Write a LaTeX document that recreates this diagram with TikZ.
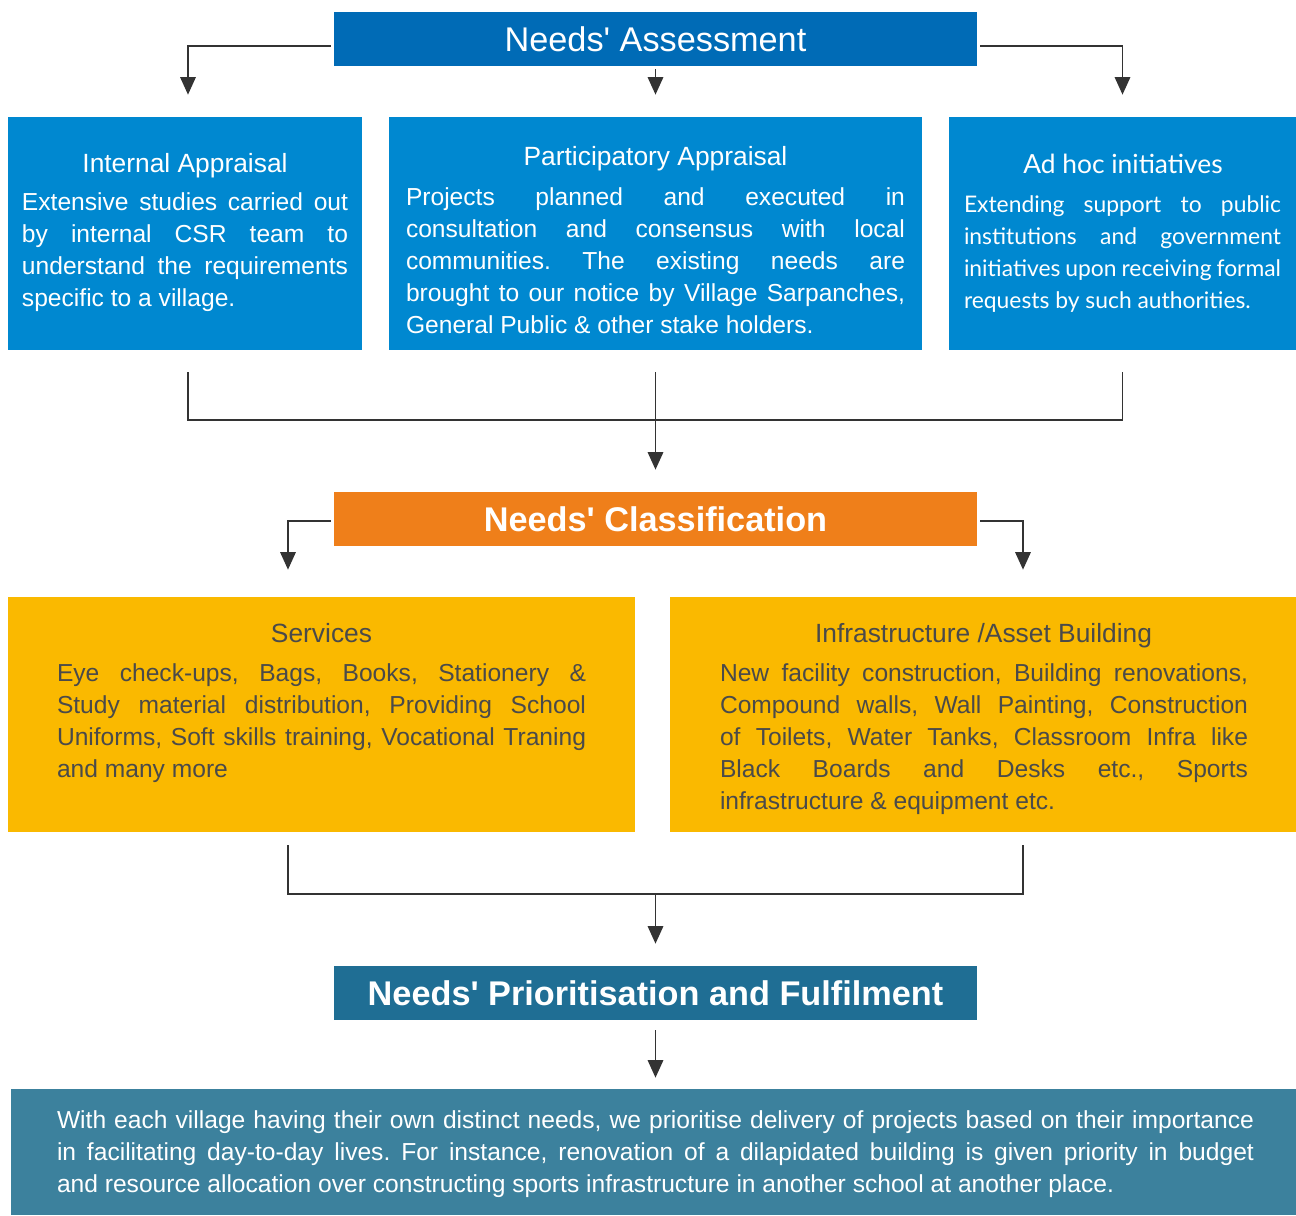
\documentclass[tikz,border=0pt]{standalone}
\usepackage{fontspec}
\setmainfont{Liberation Sans}
\newfontfamily\adhocfont{Lato}
\usetikzlibrary{arrows.meta,positioning}
\tolerance=10000
\hbadness=10000
\frenchspacing

\definecolor{assessblue}{HTML}{006BB6}
\definecolor{appraisalblue}{HTML}{0088D0}
\definecolor{classorange}{HTML}{EF7F1A}
\definecolor{typeyellow}{HTML}{FAB900}
\definecolor{priodark}{HTML}{1F6E94}
\definecolor{fulfilteal}{HTML}{3C819D}
\definecolor{inkgray}{HTML}{4A4A4A}
\definecolor{linegray}{HTML}{333333}

\tikzset{
  headbox/.style={rectangle, inner sep=0pt, text=white, minimum width=12.86cm,
    minimum height=1.08cm, font=\fontsize{19.5}{23}\selectfont},
  panel/.style={rectangle, inner sep=0pt},
  head/.style={anchor=base, inner sep=0pt, font=\fontsize{15}{18}\selectfont},
  body/.style={anchor=base, inner sep=0pt, align=justify,
    font=\fontsize{14}{18.21}\selectfont},
  link/.style={draw=linegray, line width=0.85pt},
  arr/.style={link, -{Triangle[width=0.31cm,length=0.35cm]}},
}

\begin{document}
\begin{tikzpicture}
  \useasboundingbox (0,0) rectangle (25.92,-24.3);

  % level 1: assessment
  \node[headbox, fill=assessblue] (na) at (13.11,-0.78) {Needs\textquotesingle{} Assessment};

  \node[panel, fill=appraisalblue, minimum width=7.08cm, minimum height=4.66cm] (ia) at (3.70,-4.67) {};
  \node[panel, fill=appraisalblue, minimum width=10.66cm, minimum height=4.66cm] (pa) at (13.11,-4.67) {};
  \node[panel, fill=appraisalblue, minimum width=6.94cm, minimum height=4.66cm] (ah) at (22.45,-4.67) {};

  \node[head, text=white] (iahead) at (3.70,-3.45) {Internal Appraisal};
  \node[body, text=white, text width=6.52cm] (iabody) at (3.70,-4.20)
    {Extensive studies carried out\linebreak by internal CSR team to\linebreak
     understand the requirements\linebreak specific to a village.};

  \node[head, text=white] (pahead) at (13.11,-3.31) {Participatory Appraisal};
  \node[body, text=white, text width=9.98cm] (pabody) at (13.11,-4.10)
    {Projects planned and executed in\linebreak consultation and consensus with local\linebreak
     communities. The existing needs are\linebreak brought to our notice by Village Sarpanches,\linebreak
     General Public \& other stake holders.};

  \node[head, text=white, font=\adhocfont\fontsize{15}{18}\selectfont] (ahhead) at (22.46,-3.47) {Ad hoc initiatives};
  \node[body, text=white, text width=6.34cm, font=\adhocfont\fontsize{13}{18.21}\selectfont] (ahbody) at (22.45,-4.24)
    {Extending support to public\linebreak institutions and government\linebreak
     initiatives upon receiving formal\linebreak requests by such authorities.};

  % level 2: classification
  \node[headbox, fill=classorange, font=\bfseries\fontsize{19.5}{23}\selectfont] (nc) at (13.11,-10.38) {Needs\textquotesingle{} Classification};

  \node[panel, fill=typeyellow, minimum width=12.54cm, minimum height=4.70cm] (sv) at (6.43,-14.29) {};
  \node[panel, fill=typeyellow, minimum width=12.52cm, minimum height=4.70cm] (inf) at (19.66,-14.29) {};

  \node[head, text=inkgray] (svhead) at (6.43,-12.85) {Services};
  \node[body, text=inkgray, text width=10.58cm] (svbody) at (6.43,-13.62)
    {Eye check-ups, Bags, Books, Stationery \&\linebreak Study material distribution, Providing School\linebreak
     Uniforms, Soft skills training, Vocational Traning\linebreak and many more};

  \node[head, text=inkgray] (infhead) at (19.67,-12.85) {Infrastructure /Asset Building};
  \node[body, text=inkgray, text width=10.56cm] (infbody) at (19.68,-13.62)
    {New facility construction, Building renovations,\linebreak Compound walls, Wall Painting, Construction\linebreak
     of Toilets, Water Tanks, Classroom Infra like\linebreak Black Boards and Desks etc., Sports\linebreak
     infrastructure \& equipment etc.};

  % level 3: prioritisation
  \node[headbox, fill=priodark, font=\bfseries\fontsize{19.5}{23}\selectfont] (np) at (13.11,-19.86) {Needs\textquotesingle{} Prioritisation and Fulfilment};

  \node[panel, fill=fulfilteal, minimum width=25.70cm, minimum height=2.52cm] (fin) at (13.07,-23.04) {};
  \node[body, text=white, text width=23.94cm] (finbody) at (13.11,-22.56)
    {With each village having their own distinct needs, we prioritise delivery of projects based on their importance\linebreak
     in facilitating day-to-day lives. For instance, renovation of a dilapidated building is given priority in budget\linebreak
     and resource allocation over constructing sports infrastructure in another school at another place.};

  % connectors
  \draw[arr, shorten <=0.06cm, shorten >=0.44cm] ([yshift=-0.14cm]na.west) -| ([xshift=0.06cm]ia.north);
  \draw[arr, shorten <=0.06cm, shorten >=0.44cm] (na.south) -- (pa.north);
  \draw[arr, shorten <=0.06cm, shorten >=0.44cm] ([yshift=-0.14cm]na.east) -| (ah.north);

  \coordinate (join1) at (13.11,-8.40);
  \draw[link, shorten <=0.44cm] ([xshift=0.06cm]ia.south) |- (join1);
  \draw[link, shorten <=0.44cm] (ah.south) |- (join1);
  \draw[arr, shorten <=0.44cm, shorten >=0.44cm] (pa.south) -- (nc.north);

  \draw[arr, shorten <=0.06cm, shorten >=0.54cm] ([yshift=-0.04cm]nc.west) -| ([xshift=-0.67cm]sv.north);
  \draw[arr, shorten <=0.06cm, shorten >=0.54cm] ([yshift=-0.04cm]nc.east) -| ([xshift=0.80cm]inf.north);

  \coordinate (join2) at (13.11,-17.88);
  \draw[link, shorten <=0.26cm] ([xshift=-0.67cm]sv.south) |- (join2);
  \draw[link, shorten <=0.26cm] ([xshift=0.80cm]inf.south) |- (join2);
  \draw[arr, shorten >=0.44cm] (join2) -- (np.north);

  \draw[arr, shorten <=0.20cm, shorten >=0.22cm] (np.south) -- (np.south |- fin.north);
\end{tikzpicture}
\end{document}
